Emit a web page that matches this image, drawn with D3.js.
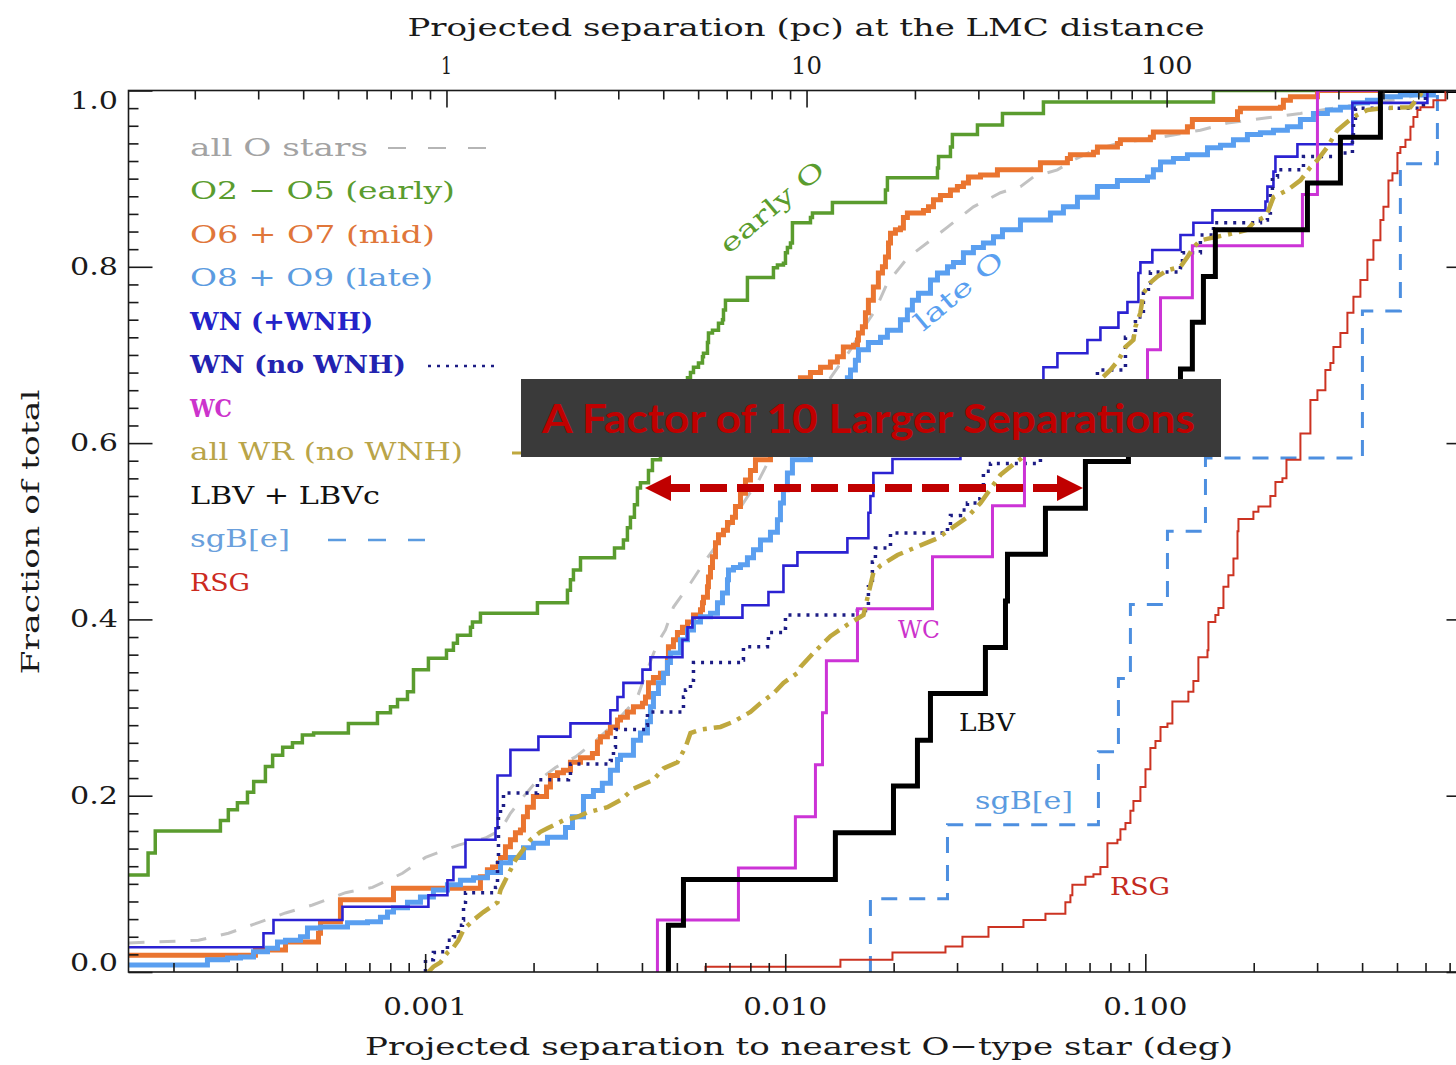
<!DOCTYPE html>
<html>
<head>
<meta charset="utf-8">
<script src="https://cdn.jsdelivr.net/npm/d3@7"></script>
<style>
  body { margin: 0; background: #fff; }
  svg { display: block; }
</style>
</head>
<body>
<svg id="chart" width="1456" height="1065"></svg>
<script>
// Cumulative distributions of projected separation to the nearest O-type star.
// Each point: [separation in degrees, cumulative fraction reached at that separation].

const allO = [[1.5e-4,0.033],[2.347e-4,0.036],[2.843e-4,0.044],[3.444e-4,0.056],[4.093e-4,0.067],[4.864e-4,0.076],[6.008e-4,0.090],[7.14e-4,0.096],[8.649e-4,0.112],[1.002e-3,0.130],[1.237e-3,0.144],[1.47e-3,0.152],[1.619e-3,0.161],[1.725e-3,0.180],[1.875e-3,0.199],[2.025e-3,0.215],[2.301e-3,0.232],[2.615e-3,0.244],[2.971e-3,0.262],[3.377e-3,0.283],[3.716e-3,0.302],[3.886e-3,0.312],[4.038e-3,0.331],[4.416e-3,0.373],[4.648e-3,0.388],[4.893e-3,0.414],[5.216e-3,0.430],[5.455e-3,0.441],[6.003e-3,0.467],[6.609e-3,0.490],[7.274e-3,0.518],[7.904e-3,0.541],[8.373e-3,0.555],[8.925e-3,0.577],[1.034e-2,0.615],[1.213e-2,0.649],[1.335e-2,0.674],[1.518e-2,0.706],[1.67e-2,0.734],[1.78e-2,0.751],[1.922e-2,0.782],[2.089e-2,0.800],[2.184e-2,0.810],[2.531e-2,0.830],[2.822e-2,0.845],[3.331e-2,0.868],[3.96e-2,0.884],[4.5e-2,0.891],[4.891e-2,0.902],[5.70e-2,0.910],[6.314e-2,0.921],[7.177e-2,0.932],[8.366e-2,0.940],[0.1102,0.947],[0.1422,0.955],[0.169,0.963],[0.2183,0.969],[0.2696,0.974],[0.333,0.980],[0.4138,0.986],[0.5109,0.990],[0.6311,1.000],[0.8,1.000]];

const earlyO = [[1.5e-4,0.110],[1.70e-4,0.135],[1.78e-4,0.160],[2.70e-4,0.172],[2.84e-4,0.184],[3.01e-4,0.192],[3.21e-4,0.204],[3.34e-4,0.216],[3.60e-4,0.233],[3.77e-4,0.246],[4.02e-4,0.255],[4.28e-4,0.260],[4.56e-4,0.269],[4.90e-4,0.271],[6.12e-4,0.282],[7.37e-4,0.294],[8.01e-4,0.301],[8.38e-4,0.309],[8.93e-4,0.318],[9.28e-4,0.343],[1.021e-3,0.356],[1.146e-3,0.365],[1.198e-3,0.373],[1.229e-3,0.382],[1.336e-3,0.391],[1.353e-3,0.397],[1.424e-3,0.407],[2.05e-3,0.419],[2.484e-3,0.433],[2.532e-3,0.445],[2.581e-3,0.456],[2.70e-3,0.470],[3.356e-3,0.481],[3.553e-3,0.490],[3.645e-3,0.504],[3.716e-3,0.516],[3.812e-3,0.530],[3.886e-3,0.549],[3.962e-3,0.555],[4.17e-3,0.569],[4.278e-3,0.581],[4.502e-3,0.604],[4.893e-3,0.638],[5.183e-3,0.660],[5.352e-3,0.674],[5.455e-3,0.680],[5.561e-3,0.686],[5.741e-3,0.691],[5.89e-3,0.698],[5.928e-3,0.702],[6.081e-3,0.714],[6.12e-3,0.725],[6.279e-3,0.728],[6.525e-3,0.736],[6.694e-3,0.740],[6.737e-3,0.751],[6.823e-3,0.762],[7.852e-3,0.788],[9.273e-3,0.799],[9.513e-3,0.802],[9.886e-3,0.804],[1.0014e-2,0.816],[1.014e-2,0.822],[1.034e-2,0.827],[1.047e-2,0.850],[1.175e-2,0.856],[1.19e-2,0.861],[1.352e-2,0.873],[1.898e-2,0.887],[1.922e-2,0.901],[2.647e-2,0.912],[2.665e-2,0.925],[2.876e-2,0.936],[2.912e-2,0.950],[3.418e-2,0.961],[4.011e-2,0.974],[5.212e-2,0.987],[0.1546,1.000],[0.8,1.000]];

const midO = [[1.5e-4,0.019],[3.378e-4,0.025],[4.093e-4,0.034],[5.055e-4,0.044],[5.12e-4,0.057],[5.817e-4,0.082],[8.166e-4,0.095],[1.424e-3,0.108],[1.489e-3,0.116],[1.538e-3,0.119],[1.598e-3,0.124],[1.619e-3,0.130],[1.671e-3,0.142],[1.725e-3,0.150],[1.781e-3,0.158],[1.839e-3,0.161],[1.875e-3,0.176],[1.923e-3,0.187],[1.998e-3,0.199],[2.173e-3,0.210],[2.228e-3,0.223],[2.33e-3,0.226],[2.421e-3,0.229],[2.532e-3,0.238],[2.70e-3,0.243],[2.914e-3,0.248],[3.009e-3,0.261],[3.067e-3,0.267],[3.207e-3,0.271],[3.269e-3,0.278],[3.42e-3,0.286],[3.487e-3,0.289],[3.645e-3,0.295],[3.788e-3,0.301],[4.013e-3,0.305],[4.091e-3,0.312],[4.17e-3,0.328],[4.305e-3,0.334],[4.502e-3,0.339],[4.708e-3,0.354],[4.738e-3,0.369],[4.893e-3,0.377],[5.019e-3,0.385],[5.183e-3,0.391],[5.352e-3,0.397],[5.561e-3,0.405],[5.815e-3,0.411],[5.89e-3,0.419],[5.928e-3,0.425],[6.081e-3,0.437],[6.12e-3,0.448],[6.20e-3,0.459],[6.279e-3,0.471],[6.401e-3,0.487],[6.525e-3,0.496],[6.737e-3,0.501],[6.911e-3,0.510],[7.136e-3,0.516],[7.274e-3,0.528],[7.51e-3,0.543],[7.754e-3,0.558],[8.006e-3,0.569],[8.266e-3,0.581],[9.098e-3,0.615],[1.0014e-2,0.649],[1.102e-2,0.674],[1.175e-2,0.680],[1.253e-2,0.686],[1.335e-2,0.692],[1.396e-2,0.698],[1.45e-2,0.709],[1.547e-2,0.711],[1.587e-2,0.717],[1.597e-2,0.725],[1.638e-2,0.732],[1.67e-2,0.748],[1.702e-2,0.762],[1.757e-2,0.777],[1.814e-2,0.793],[1.862e-2,0.800],[1.898e-2,0.811],[1.935e-2,0.827],[1.96e-2,0.838],[2.023e-2,0.842],[2.089e-2,0.844],[2.129e-2,0.856],[2.184e-2,0.861],[2.42e-2,0.864],[2.499e-2,0.868],[2.58e-2,0.876],[2.698e-2,0.881],[2.876e-2,0.887],[3.007e-2,0.891],[3.125e-2,0.895],[3.227e-2,0.902],[3.485e-2,0.904],[3.884e-2,0.910],[5.113e-2,0.918],[6.075e-2,0.923],[6.194e-2,0.927],[7.177e-2,0.930],[7.362e-2,0.936],[8.366e-2,0.940],[8.528e-2,0.944],[0.1033,0.947],[0.1053,0.953],[0.1309,0.959],[0.1351,0.967],[0.1803,0.976],[0.1837,0.980],[0.2373,0.981],[0.2418,0.989],[0.2529,0.993],[0.3006,1.000],[0.8,1.000]];

const lateO = [[1.5e-4,0.008],[2.485e-4,0.014],[2.825e-4,0.016],[3.07e-4,0.017],[3.336e-4,0.023],[3.648e-4,0.027],[3.889e-4,0.034],[4.093e-4,0.036],[4.505e-4,0.040],[4.711e-4,0.050],[5.12e-4,0.051],[6.085e-4,0.056],[6.916e-4,0.057],[7.514e-4,0.062],[7.858e-4,0.068],[8.166e-4,0.073],[8.93e-4,0.079],[9.703e-4,0.085],[1.054e-3,0.093],[1.153e-3,0.099],[1.253e-3,0.104],[1.362e-3,0.107],[1.489e-3,0.113],[1.619e-3,0.124],[1.725e-3,0.130],[1.875e-3,0.141],[1.998e-3,0.146],[2.186e-3,0.153],[2.453e-3,0.164],[2.565e-3,0.176],[2.752e-3,0.199],[2.933e-3,0.206],[3.105e-3,0.214],[3.269e-3,0.229],[3.42e-3,0.241],[3.487e-3,0.246],[3.788e-3,0.263],[3.962e-3,0.271],[4.143e-3,0.284],[4.223e-3,0.301],[4.305e-3,0.316],[4.445e-3,0.328],[4.59e-3,0.339],[4.708e-3,0.351],[4.799e-3,0.362],[5.117e-3,0.377],[5.352e-3,0.388],[5.561e-3,0.397],[5.815e-3,0.403],[6.20e-3,0.407],[6.483e-3,0.419],[6.694e-3,0.430],[6.911e-3,0.445],[6.956e-3,0.456],[7.182e-3,0.459],[7.51e-3,0.462],[7.852e-3,0.470],[8.163e-3,0.479],[8.535e-3,0.490],[9.098e-3,0.499],[9.513e-3,0.513],[9.698e-3,0.532],[9.886e-3,0.547],[1.014e-2,0.566],[1.047e-2,0.581],[1.175e-2,0.615],[1.335e-2,0.649],[1.488e-2,0.674],[1.518e-2,0.683],[1.566e-2,0.694],[1.597e-2,0.706],[1.702e-2,0.714],[1.839e-2,0.720],[1.922e-2,0.728],[2.089e-2,0.740],[2.184e-2,0.751],[2.255e-2,0.762],[2.344e-2,0.770],[2.531e-2,0.785],[2.647e-2,0.793],[2.822e-2,0.800],[2.932e-2,0.805],[3.125e-2,0.816],[3.331e-2,0.822],[3.551e-2,0.827],[3.787e-2,0.834],[4.011e-2,0.842],[4.5e-2,0.853],[5.451e-2,0.861],[5.923e-2,0.868],[6.479e-2,0.879],[7.362e-2,0.891],[8.366e-2,0.898],[0.1014,0.902],[0.1053,0.910],[0.1102,0.919],[0.1197,0.923],[0.1309,0.927],[0.1488,0.935],[0.1617,0.938],[0.1757,0.944],[0.1921,0.950],[0.2088,0.952],[0.2269,0.955],[0.2481,0.959],[0.2696,0.967],[0.293,0.974],[0.3204,0.978],[0.3482,0.981],[0.3784,0.986],[0.4138,0.989],[0.4497,0.993],[0.5109,0.995],[0.6311,1.000],[0.8,1.000]];

const wnAll = [[1.5e-4,0.028],[3.556e-4,0.044],[3.791e-4,0.059],[5.893e-4,0.074],[1.021e-3,0.087],[1.153e-3,0.104],[1.198e-3,0.119],[1.294e-3,0.150],[1.568e-3,0.163],[1.588e-3,0.223],[1.725e-3,0.252],[2.063e-3,0.267],[2.532e-3,0.282],[3.269e-3,0.297],[3.42e-3,0.312],[3.553e-3,0.328],[4.013e-3,0.343],[4.223e-3,0.357],[5.183e-3,0.377],[5.352e-3,0.391],[5.525e-3,0.402],[7.606e-3,0.416],[8.982e-3,0.431],[9.886e-3,0.461],[1.081e-2,0.476],[1.488e-2,0.492],[1.702e-2,0.521],[1.724e-2,0.540],[1.757e-2,0.566],[1.985e-2,0.582],[3.066e-2,0.615],[4.222e-2,0.649],[5.212e-2,0.686],[5.70e-2,0.702],[6.905e-2,0.717],[7.504e-2,0.731],[8.42e-2,0.748],[8.919e-2,0.760],[9.568e-2,0.793],[9.691e-2,0.805],[0.1046,0.819],[0.1252,0.836],[0.136,0.850],[0.1536,0.864],[0.2156,0.874],[0.2183,0.891],[0.2269,0.908],[0.2298,0.925],[0.2645,0.939],[0.376,0.986],[0.6073,1.000],[0.8,1.000]];

const wnNoWNH = [[1.002e-3,0],[1.002e-3,0.014],[1.054e-3,0.022],[1.082e-3,0.023],[1.153e-3,0.036],[1.198e-3,0.040],[1.237e-3,0.053],[1.269e-3,0.059],[1.278e-3,0.079],[1.294e-3,0.090],[1.568e-3,0.096],[1.588e-3,0.127],[1.598e-3,0.176],[1.619e-3,0.187],[1.65e-3,0.203],[2.05e-3,0.218],[2.50e-3,0.223],[2.532e-3,0.236],[3.269e-3,0.240],[3.334e-3,0.255],[3.377e-3,0.275],[4.091e-3,0.280],[4.143e-3,0.295],[5.183e-3,0.297],[5.216e-3,0.312],[5.284e-3,0.320],[5.455e-3,0.331],[5.561e-3,0.351],[7.606e-3,0.354],[7.655e-3,0.369],[8.925e-3,0.373],[8.982e-3,0.385],[9.886e-3,0.390],[1.0014e-2,0.405],[1.587e-2,0.410],[1.67e-2,0.413],[1.702e-2,0.437],[1.746e-2,0.465],[1.78e-2,0.481],[1.96e-2,0.498],[2.822e-2,0.505],[2.876e-2,0.518],[3.066e-2,0.524],[3.206e-2,0.532],[3.418e-2,0.537],[3.485e-2,0.552],[3.551e-2,0.568],[3.715e-2,0.577],[5.113e-2,0.615],[6.604e-2,0.655],[7.362e-2,0.683],[8.807e-2,0.720],[9.387e-2,0.743],[9.879e-2,0.770],[0.102,0.782],[0.1033,0.794],[0.1252,0.799],[0.1268,0.816],[0.1422,0.836],[0.1546,0.850],[0.2088,0.853],[0.2183,0.861],[0.2225,0.887],[0.2254,0.902],[0.2328,0.910],[0.2749,0.925],[0.3482,0.929],[0.376,0.944],[0.3784,0.963],[0.3833,0.980],[0.5921,0.989],[0.5997,1.000],[0.8,1.000]];

const wc = [[4.416e-3,0],[4.416e-3,0.059],[7.413e-3,0.118],[1.067e-2,0.176],[1.213e-2,0.235],[1.269e-2,0.294],[1.301e-2,0.353],[1.587e-2,0.412],[2.564e-2,0.471],[3.763e-2,0.529],[4.617e-2,0.588],[6.818e-2,0.647],[0.1014,0.706],[0.1102,0.765],[0.1351,0.824],[0.2731,0.882],[0.3006,1.000],[0.8,1.000]];

const allWR = [[1.021e-3,0],[1.054e-3,0.006],[1.103e-3,0.011],[1.153e-3,0.022],[1.198e-3,0.028],[1.237e-3,0.036],[1.278e-3,0.048],[1.362e-3,0.059],[1.451e-3,0.068],[1.588e-3,0.079],[1.619e-3,0.093],[1.781e-3,0.127],[1.961e-3,0.150],[2.09e-3,0.159],[2.186e-3,0.163],[2.421e-3,0.172],[2.648e-3,0.176],[2.823e-3,0.181],[3.207e-3,0.187],[3.487e-3,0.195],[3.788e-3,0.208],[4.305e-3,0.218],[4.59e-3,0.231],[5.019e-3,0.238],[5.284e-3,0.255],[5.455e-3,0.271],[5.815e-3,0.275],[6.609e-3,0.278],[7.182e-3,0.284],[8.006e-3,0.295],[8.535e-3,0.305],[9.273e-3,0.316],[9.886e-3,0.328],[1.081e-2,0.339],[1.102e-2,0.346],[1.198e-2,0.362],[1.335e-2,0.381],[1.488e-2,0.394],[1.649e-2,0.405],[1.757e-2,0.453],[1.839e-2,0.461],[2.05e-2,0.473],[2.374e-2,0.484],[2.647e-2,0.492],[2.932e-2,0.505],[3.206e-2,0.516],[3.485e-2,0.532],[3.715e-2,0.548],[3.96e-2,0.564],[4.303e-2,0.576],[4.5e-2,0.582],[5.81e-2,0.626],[7.038e-2,0.660],[7.504e-2,0.672],[8.0e-2,0.683],[8.42e-2,0.694],[8.807e-2,0.709],[9.268e-2,0.717],[9.387e-2,0.732],[9.691e-2,0.748],[9.879e-2,0.770],[0.1033,0.782],[0.108,0.789],[0.1152,0.796],[0.1252,0.800],[0.1309,0.811],[0.136,0.822],[0.1422,0.830],[0.1757,0.838],[0.1921,0.842],[0.1996,0.850],[0.2128,0.856],[0.2183,0.861],[0.2269,0.879],[0.2481,0.887],[0.2696,0.898],[0.2874,0.913],[0.3006,0.921],[0.3204,0.936],[0.3416,0.955],[0.3784,0.970],[0.4138,0.978],[0.4585,0.980],[0.5449,0.981],[0.5921,1.000],[0.8,1.000]];

const lbv = [[4.738e-3,0],[4.738e-3,0.053],[5.216e-3,0.105],[1.378e-2,0.158],[1.998e-2,0.211],[2.329e-2,0.263],[2.531e-2,0.316],[3.597e-2,0.368],[4.089e-2,0.421],[4.142e-2,0.474],[5.28e-2,0.526],[6.818e-2,0.579],[8.976e-2,0.632],[0.1252,0.684],[0.1351,0.737],[0.145,0.789],[0.1565,0.842],[0.282,0.895],[0.3482,0.947],[0.4497,1.000],[0.8,1.000]];

const sgBe = [[1.724e-2,0],[1.724e-2,0.083],[2.822e-2,0.167],[7.409e-2,0.250],[8.42e-2,0.333],[9.091e-2,0.417],[0.1152,0.500],[0.1469,0.583],[0.4008,0.750],[0.5109,0.917],[0.6474,1.000],[0.8,1.000]];

const rsg = [[6.003e-3,0],[6.003e-3,0.006],[1.423e-2,0.014],[1.985e-2,0.022],[2.786e-2,0.029],[3.105e-2,0.040],[3.668e-2,0.051],[4.587e-2,0.059],[5.28e-2,0.066],[5.998e-2,0.079],[6.194e-2,0.087],[6.272e-2,0.099],[6.818e-2,0.108],[7.177e-2,0.111],[7.504e-2,0.119],[7.849e-2,0.146],[8.366e-2,0.150],[8.528e-2,0.162],[8.807e-2,0.169],[9.091e-2,0.183],[9.268e-2,0.194],[9.691e-2,0.210],[0.1001,0.230],[0.1033,0.254],[0.1067,0.262],[0.1102,0.278],[0.1152,0.282],[0.1189,0.307],[0.1317,0.318],[0.136,0.330],[0.1404,0.357],[0.1488,0.365],[0.1497,0.397],[0.1565,0.405],[0.1596,0.413],[0.1648,0.437],[0.1701,0.450],[0.1757,0.469],[0.1803,0.500],[0.1814,0.514],[0.1996,0.522],[0.2061,0.528],[0.2225,0.540],[0.2298,0.556],[0.2403,0.560],[0.2466,0.581],[0.2696,0.611],[0.2874,0.649],[0.3006,0.660],[0.3163,0.683],[0.3266,0.691],[0.333,0.709],[0.3482,0.725],[0.3641,0.748],[0.3784,0.766],[0.3957,0.785],[0.4138,0.808],[0.43,0.830],[0.4497,0.853],[0.4585,0.868],[0.4734,0.898],[0.4857,0.906],[0.5014,0.929],[0.5109,0.936],[0.5277,0.944],[0.5449,0.959],[0.5554,0.970],[0.5697,0.978],[0.5808,0.981],[0.6311,0.989],[0.6815,1.000],[0.8,1.000]];

// Axis ticks and labels
const xMajor = [0.001, 0.01, 0.1];
const xMajorLabels = ["0.001", "0.010", "0.100"];
const pcMajor = [1, 10, 100];
const pcMajorLabels = ["1", "10", "100"];
const yMajor = [0, 0.2, 0.4, 0.6, 0.8, 1.0];
const yMajorLabels = ["0.0", "0.2", "0.4", "0.6", "0.8", "1.0"];

const legendLabels = ["all O stars", "O2 − O5 (early)", "O6 + O7 (mid)", "O8 + O9 (late)", "WN (+WNH)", "WN (no WNH)", "WC", "all WR (no WNH)", "LBV + LBVc", "sgB[e]", "RSG"];

const PC_PER_DEG = 872.66; // 1 degree at the 50 kpc LMC distance

// ---------------------------------------------------------------------------
const svg = d3.select("#chart");
const serif = "'DejaVu Serif', serif";
const L = 128.5, R = 1470.5, T = 90.5, B = 972;

const x = d3.scaleLog().domain([1.5e-4, 0.8]).range([L, R]);
const xpc = d3.scaleLog().domain([1.5e-4 * PC_PER_DEG, 0.8 * PC_PER_DEG]).range([L, R]);
const y = d3.scaleLinear().domain([0, 1]).range([B, T]);

svg.append("defs").append("clipPath").attr("id", "plotArea")
  .append("rect").attr("x", L).attr("y", T).attr("width", R - L).attr("height", B - T);

// --- Series ---
const series = [
  { data: allO,    color: "#c2c2c2", width: 3,   dash: "16,15", curve: d3.curveLinear },
  { data: earlyO,  color: "#5a9c2e", width: 3.5, curve: d3.curveStepAfter },
  { data: midO,    color: "#ea7530", width: 5,   curve: d3.curveStepAfter },
  { data: lateO,   color: "#5a9ff0", width: 5,   curve: d3.curveStepAfter },
  { data: wnAll,   color: "#2b22d2", width: 2.6, curve: d3.curveStepAfter },
  { data: wnNoWNH, color: "#1c1c85", width: 3.5, dash: "3,6", curve: d3.curveStepAfter },
  { data: wc,      color: "#cc33d6", width: 3,   curve: d3.curveStepAfter },
  { data: allWR,   color: "#bfa83e", width: 4.5, dash: "18,7,4,7", curve: d3.curveLinear },
  { data: lbv,     color: "#000000", width: 5,   curve: d3.curveStepAfter },
  { data: sgBe,    color: "#4d8fe0", width: 3,   dash: "16,12", curve: d3.curveStepAfter },
  { data: rsg,     color: "#cc3322", width: 2,   curve: d3.curveStepAfter }
];

const gLines = svg.append("g").attr("clip-path", "url(#plotArea)");
series.forEach(s => {
  const line = d3.line().x(d => x(d[0])).y(d => y(d[1])).curve(s.curve);
  gLines.append("path")
    .datum(s.data)
    .attr("d", line)
    .attr("fill", "none")
    .attr("stroke", s.color)
    .attr("stroke-width", s.width)
    .attr("stroke-dasharray", s.dash || null)
    .attr("stroke-linejoin", "miter");
});

// --- Axes (ticks point inward) ---
const tickStyle = g => {
  g.select(".domain").remove();
  g.selectAll(".tick line").attr("stroke", "#1a1a1a").attr("stroke-width", 1.6);
  g.selectAll(".tick text").remove();
};
const near = (v, arr) => arr.some(a => Math.abs(v / a - 1) < 1e-6);

const xMinor = x.ticks().filter(v => !near(v, xMajor));
svg.append("g").attr("transform", `translate(0,${B})`)
  .call(d3.axisBottom(x).tickValues(xMinor).tickSize(-9).tickSizeOuter(0)).call(tickStyle);
svg.append("g").attr("transform", `translate(0,${B})`)
  .call(d3.axisBottom(x).tickValues(xMajor).tickSize(-18).tickSizeOuter(0)).call(tickStyle);

const pcMinor = xpc.ticks().filter(v => !near(v, pcMajor));
svg.append("g").attr("transform", `translate(0,${T})`)
  .call(d3.axisTop(xpc).tickValues(pcMinor).tickSize(-9).tickSizeOuter(0)).call(tickStyle);
svg.append("g").attr("transform", `translate(0,${T})`)
  .call(d3.axisTop(xpc).tickValues(pcMajor).tickSize(-17).tickSizeOuter(0)).call(tickStyle);

const yMinor = y.ticks(50).filter(v => Math.abs(v * 5 - Math.round(v * 5)) > 1e-6);
[[d3.axisLeft, L], [d3.axisRight, R]].forEach(([ax, pos]) => {
  svg.append("g").attr("transform", `translate(${pos},0)`)
    .call(ax(y).tickValues(yMinor).tickSize(-10).tickSizeOuter(0)).call(tickStyle);
  svg.append("g").attr("transform", `translate(${pos},0)`)
    .call(ax(y).tickValues(yMajor).tickSize(-24).tickSizeOuter(0)).call(tickStyle);
});

svg.append("rect").attr("x", L).attr("y", T).attr("width", R - L).attr("height", B - T)
  .attr("fill", "none").attr("stroke", "#1a1a1a").attr("stroke-width", 1.6);

// --- Tick labels and titles ---
function label(txt, px, py, opts = {}) {
  const t = svg.append("text")
    .attr("x", px).attr("y", py)
    .attr("font-family", opts.family || serif)
    .attr("font-size", opts.size || 25)
    .attr("font-weight", opts.weight || "normal")
    .attr("fill", opts.color || "#1a1a1a")
    .attr("text-anchor", opts.anchor || "middle")
    .attr("dominant-baseline", opts.baseline || "central")
    .text(txt);
  if (opts.len) t.attr("textLength", opts.len).attr("lengthAdjust", "spacingAndGlyphs");
  if (opts.rotate !== undefined) t.attr("transform", `rotate(${opts.rotate},${px},${py})`);
  return t;
}

xMajor.forEach((v, i) => label(xMajorLabels[i], x(v), 1007, { len: 84, size: 24 }));
pcMajor.forEach((v, i) => label(pcMajorLabels[i], xpc(v), 66, { len: [11, 31, 52][i], size: 24 }));
yMajor.forEach((v, i) => label(yMajorLabels[i], 118, Math.min(Math.max(y(v), 101), 963), { anchor: "end", len: 48, size: 24 }));

label("Projected separation to nearest O−type star (deg)", 799, 1046, { len: 868, size: 25 });
label("Projected separation (pc) at the LMC distance", 806, 27, { len: 797, size: 25 });
label("Fraction of total", 30, 532, { len: 285, size: 25, rotate: -90 });

// --- Legend ---
const legendStyle = [
  { color: "#a3a3a3", len: 178 },
  { color: "#5a9c2e", len: 265 },
  { color: "#e0763a", len: 245 },
  { color: "#5b9be0", len: 243 },
  { color: "#2323c8", len: 183, weight: "bold" },
  { color: "#2323b0", len: 216, weight: "bold" },
  { color: "#cc33cc", len: 42, weight: "bold" },
  { color: "#b9a448", len: 273 },
  { color: "#111111", len: 190 },
  { color: "#6a9fdc", len: 100 },
  { color: "#cc2a1e", len: 60 }
];
legendLabels.forEach((txt, i) => {
  const st = legendStyle[i];
  label(txt, 190, 147 + i * 43.5, { anchor: "start", color: st.color, len: st.len, weight: st.weight, size: 25 });
});
// legend line samples
const sample = (x1, x2, yy, color, w, dash) => svg.append("line")
  .attr("x1", x1).attr("x2", x2).attr("y1", yy).attr("y2", yy)
  .attr("stroke", color).attr("stroke-width", w).attr("stroke-dasharray", dash);
sample(388, 487, 148, "#b5b5b5", 2.2, "18,22");
sample(428, 496, 366, "#1c1c85", 2.6, "3,6");
sample(512, 610, 453, "#bfa83e", 3, "12,6,3,6");
sample(328, 425, 540, "#5b9be0", 2.4, "18,22");

// --- In-plot labels ---
label("early O", 772, 207, { color: "#5a9c2e", rotate: -40, len: 128, size: 25 });
label("late O", 959, 291, { color: "#5a9ff0", rotate: -40, len: 108, size: 25 });
label("WC", 919, 629, { color: "#cc33cc", len: 42, size: 25 });
label("LBV", 987, 722, { color: "#111", len: 56, size: 25 });
label("sgB[e]", 1024, 800, { color: "#5b9be0", len: 98, size: 25 });
label("RSG", 1140, 886, { color: "#c42a1e", len: 60, size: 25 });

// --- Annotation: box and double-headed arrow ---
svg.append("rect").attr("x", 521).attr("y", 379).attr("width", 700).attr("height", 78).attr("fill", "#3a3a3a");
svg.append("text")
  .attr("x", 542).attr("y", 433)
  .attr("font-family", "Lato, 'Open Sans', sans-serif")
  .attr("font-weight", "bold").attr("font-size", 40)
  .attr("fill", "#c00000")
  .attr("textLength", 653).attr("lengthAdjust", "spacingAndGlyphs")
  .text("A Factor of 10 Larger Separations");

const ay = 488;
svg.append("line").attr("x1", 668).attr("x2", 1060).attr("y1", ay).attr("y2", ay)
  .attr("stroke", "#c00000").attr("stroke-width", 8).attr("stroke-dasharray", "27,10").attr("stroke-dashoffset", 5);
svg.append("path").attr("d", `M645,${ay} L671,${ay - 13} L671,${ay + 13} Z`).attr("fill", "#c00000");
svg.append("path").attr("d", `M1083,${ay} L1057,${ay - 13} L1057,${ay + 13} Z`).attr("fill", "#c00000");
</script>
</body>
</html>
